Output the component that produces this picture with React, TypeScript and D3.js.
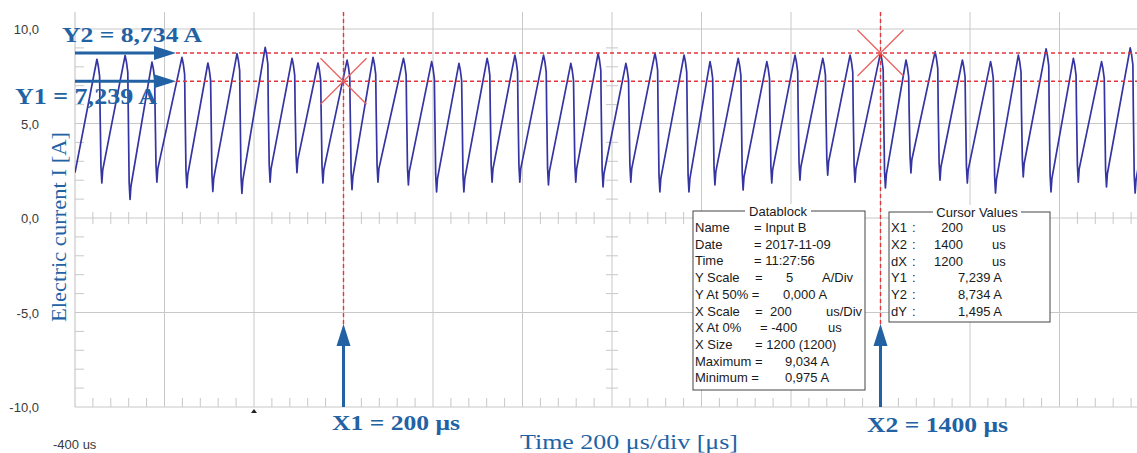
import React from "react";
import * as d3 from "d3";

const W = 1137;
const H = 453;

// Waveform, read per cycle: time of each peak (us), peak value (A), following trough value (A)
const peakTimes = [-351, -288, -228, -161, -103, -38, 25, 85, 143, 208, 266, 334, 397, 458, 521, 583, 647, 708, 769, 831, 896, 961, 1019, 1082, 1146, 1209, 1271, 1332, 1400, 1457, 1522, 1583, 1646, 1708, 1770, 1831, 1894, 1958];
const peakValues = [8.4, 8.6, 8.25, 8.5, 8.2, 8.7, 9.03, 8.45, 8.2, 8.35, 8.5, 8.45, 8.27, 8.18, 8.45, 8.62, 8.62, 8.18, 8.71, 8.18, 8.71, 8.62, 8.27, 8.45, 8.27, 8.62, 8.45, 8.62, 8.734, 8.36, 8.8, 8.36, 8.27, 8.62, 8.95, 8.45, 8.27, 9.0];
const troughValues = [1.85, 0.98, 1.9, 1.6, 1.4, 1.3, 1.9, 2.4, 1.85, 1.5, 1.9, 1.75, 1.38, 1.38, 1.9, 1.9, 1.75, 1.9, 1.64, 1.9, 1.38, 1.38, 1.75, 1.48, 1.85, 2.0, 2.27, 1.9, 1.59, 2.38, 2.0, 1.85, 1.32, 2.17, 1.38, 1.9, 1.64, 1.32];
const startValue = 2.4;
const endValue = 6.0;

const yTickValues = [10, 5, 0, -5, -10];
const yTickLabels = ["10,0", "5,0", "0,0", "-5,0", "-10,0"];
const xStartLabel = "-400 us";

const cursorX1 = 200;
const cursorX2 = 1400;
const cursorY1 = 7.239;
const cursorY2 = 8.734;

const datablockTitle = "Datablock";
const datablockRows: string[][] = [
  ["Name", "= Input B"],
  ["Date", "= 2017-11-09"],
  ["Time", "= 11:27:56"],
  ["Y Scale", "=", "5", "A/Div"],
  ["Y At 50% =", "0,000 A"],
  ["X Scale", "=", "200", "us/Div"],
  ["X At 0%", "= -400", "us"],
  ["X Size", "= 1200 (1200)"],
  ["Maximum =", "9,034 A"],
  ["Minimum =", "0,975 A"],
];
const cursorTitle = "Cursor Values";
const cursorRows: string[][] = [
  ["X1", "200", "us"],
  ["X2", "1400", "us"],
  ["dX", "1200", "us"],
  ["Y1", "7,239 A", ""],
  ["Y2", "8,734 A", ""],
  ["dY", "1,495 A", ""],
];

const labelY2 = "Y2 = 8,734 A";
const labelY1 = "Y1 = 7,239 A";
const labelX1 = "X1 = 200 μs";
const labelX2 = "X2 = 1400 μs";
const xTitle = "Time 200 μs/div [μs]";
const yTitle = "Electric current I [A]";

export default function App() {
  const x = d3.scaleLinear().domain([-400, 2000]).range([75, 1149]);
  const y = d3.scaleLinear().domain([-10, 10]).range([407, 29]);
  const top = 12;
  const bottom = y(-10);
  const left = x(-400);
  const right = W;

  const pts: [number, number][] = [[-400, startValue]];
  peakTimes.forEach((tp, i) => {
    const vp = peakValues[i];
    const tv = troughValues[i];
    pts.push([tp, vp], [tp + 3, vp - 0.35], [tp + 6, vp - 0.9], [tp + 7, 5.7], [tp + 9, tv + 0.9], [tp + 11, tv], [tp + 13, tv + 0.7]);
  });
  pts.push([2000, endValue]);
  const line = d3.line<[number, number]>().x((d) => x(d[0])).y((d) => y(d[1]));

  const gridColor = "#c8c8c8";
  const vGrid = d3.range(-200, 2001, 200);
  const minorT = d3.range(-400, 2001, 40).filter((t) => (t + 400) % 200 !== 0);
  const minorV = d3.range(-10, 11, 1).filter((v) => v % 5 !== 0);

  const annColor = "#2262a4";
  const red = "#e3353a";
  const serif = "'Liberation Serif', 'Times New Roman', serif";
  const sans = "'Liberation Sans', Arial, sans-serif";

  const dbX = [[695, 754], [695, 754], [695, 754], [695, 755, 786, 822], [695, 783], [695, 755, 770, 826], [695, 760, 828], [695, 755], [695, 785], [695, 785]];

  const yArrow = (v: number) => {
    const yy = y(v);
    const x0 = left;
    const tip = left + 101;
    return (
      <g key={"ya" + v}>
        <line x1={x0} x2={tip - 18} y1={yy} y2={yy} stroke={annColor} strokeWidth={3} />
        <polygon points={`${tip - 22},${yy - 7} ${tip},${yy} ${tip - 22},${yy + 7}`} fill={annColor} />
      </g>
    );
  };
  const xArrow = (t: number) => {
    const xx = x(t);
    const tip = 324;
    return (
      <g key={"xa" + t}>
        <line x1={xx} x2={xx} y1={bottom} y2={tip + 18} stroke={annColor} strokeWidth={3} />
        <polygon points={`${xx - 7},${tip + 22} ${xx},${tip} ${xx + 7},${tip + 22}`} fill={annColor} />
      </g>
    );
  };
  const cross = (t: number, v: number, k: string) => {
    const cx = x(t);
    const cy = y(v);
    const r = 23;
    return (
      <g key={k} stroke="#e8605e" strokeWidth={1.3}>
        <line x1={cx - r} y1={cy - r} x2={cx + r} y2={cy + r} />
        <line x1={cx - r} y1={cy + r} x2={cx + r} y2={cy - r} />
      </g>
    );
  };

  return (
    <svg width={W} height={H} style={{ position: "absolute", left: 0, top: 0, background: "#fff" }}>
      <defs>
        <clipPath id="plot">
          <rect x={left} y={top} width={right - left} height={bottom - top} />
        </clipPath>
      </defs>
      <rect x={0} y={0} width={W} height={H} fill="#fff" />

      {/* grid */}
      {vGrid.map((t) => (
        <line key={"vg" + t} x1={x(t)} x2={x(t)} y1={top} y2={bottom} stroke={gridColor} strokeWidth={1} />
      ))}
      {yTickValues.map((v) => (
        <line key={"hg" + v} x1={left} x2={right} y1={y(v)} y2={y(v)} stroke={gridColor} strokeWidth={1} />
      ))}
      <line x1={left} x2={left} y1={top} y2={bottom} stroke={gridColor} strokeWidth={1.2} />
      {minorV.map((v) => (
        <line key={"lt" + v} x1={left} x2={left + 9} y1={y(v)} y2={y(v)} stroke={gridColor} />
      ))}
      {minorV.map((v) => (
        <line key={"ct" + v} x1={x(800) - 6} x2={x(800) + 6} y1={y(v)} y2={y(v)} stroke={gridColor} />
      ))}
      {minorT.map((t) => (
        <line key={"bt" + t} x1={x(t)} x2={x(t)} y1={bottom} y2={bottom - 9} stroke={gridColor} />
      ))}
      {minorT.map((t) => (
        <line key={"mt" + t} x1={x(t)} x2={x(t)} y1={y(0) - 6} y2={y(0) + 6} stroke={gridColor} />
      ))}
      <polygon points={`${x(0) - 3},${bottom + 6} ${x(0)},${bottom + 2} ${x(0) + 3},${bottom + 6}`} fill="#222" />

      {/* waveform */}
      <path d={line(pts) || ""} fill="none" stroke="#3434a2" strokeWidth={1.7} strokeLinejoin="round" clipPath="url(#plot)" />

      {/* cursors */}
      {[cursorY1, cursorY2].map((v) => (
        <line key={"cy" + v} x1={left + 101} x2={right} y1={y(v)} y2={y(v)} stroke={red} strokeWidth={1.6} strokeDasharray="4 3" />
      ))}
      {[cursorX1, cursorX2].map((t) => (
        <line key={"cx" + t} x1={x(t)} x2={x(t)} y1={top} y2={bottom} stroke={red} strokeWidth={1.4} strokeDasharray="4 3" />
      ))}
      {cross(cursorX1, cursorY1, "c1")}
      {cross(cursorX2, cursorY2, "c2")}

      {/* y tick labels */}
      {yTickValues.map((v, i) => (
        <text key={"yl" + v} x={39} y={y(v) + 5} textAnchor="end" fontFamily={sans} fontSize={13} fill="#3a3a3a">
          {yTickLabels[i]}
        </text>
      ))}
      <text x={53} y={449} fontFamily={sans} fontSize={13} fill="#3a3a3a">{xStartLabel}</text>

      {/* datablock */}
      <g fontFamily={sans} fontSize={13} fill="#1a1a1a">
        <rect x={693} y={211} width={172} height={179} fill="#fff" stroke="#444" strokeWidth={1} />
        <rect x={745} y={204} width={66} height={14} fill="#fff" />
        <text x={778} y={216} textAnchor="middle">{datablockTitle}</text>
        {datablockRows.map((row, r) =>
          row.map((s, c) => (
            <text key={`db${r}-${c}`} x={dbX[r][c]} y={232 + r * 16.7} xmlSpace="preserve">
              {s}
            </text>
          ))
        )}
      </g>

      {/* cursor values */}
      <g fontFamily={sans} fontSize={13} fill="#1a1a1a">
        <rect x={889} y={212} width={161} height={110} fill="#fff" stroke="#444" strokeWidth={1} />
        <rect x={933} y={205} width={88} height={14} fill="#fff" />
        <text x={977} y={217} textAnchor="middle">{cursorTitle}</text>
        {cursorRows.map((row, r) => {
          const yy = 232 + r * 16.8;
          const isY = row[2] === "";
          return (
            <g key={"cr" + r}>
              <text x={891} y={yy}>{row[0]}</text>
              <text x={912} y={yy}>:</text>
              <text x={isY ? 1002 : 963} y={yy} textAnchor="end">{row[1]}</text>
              {!isY && <text x={992} y={yy}>{row[2]}</text>}
            </g>
          );
        })}
      </g>

      {/* annotations */}
      {yArrow(cursorY2)}
      {yArrow(cursorY1)}
      {xArrow(cursorX1)}
      {xArrow(cursorX2)}
      <g fontFamily={serif} fill={annColor}>
        <text x={62} y={42} fontSize={22} fontWeight="bold" textLength={140} lengthAdjust="spacingAndGlyphs">{labelY2}</text>
        <text x={15} y={104} fontSize={23} fontWeight="bold" textLength={142} lengthAdjust="spacingAndGlyphs">{labelY1}</text>
        <text x={332} y={430} fontSize={22} fontWeight="bold" textLength={128} lengthAdjust="spacingAndGlyphs">{labelX1}</text>
        <text x={867} y={432} fontSize={22} fontWeight="bold" textLength={141} lengthAdjust="spacingAndGlyphs">{labelX2}</text>
        <text x={520} y={449} fontSize={22} textLength={218} lengthAdjust="spacingAndGlyphs">{xTitle}</text>
        <text transform="translate(66,322) rotate(-90)" fontSize={22} textLength={190} lengthAdjust="spacingAndGlyphs">{yTitle}</text>
      </g>
    </svg>
  );
}
